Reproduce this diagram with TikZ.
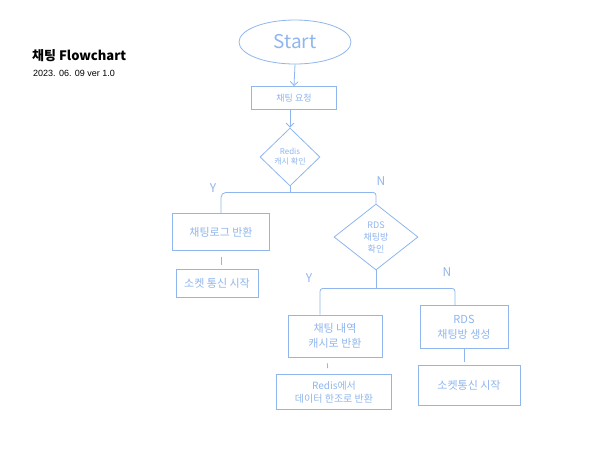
\documentclass[tikz,border=0pt]{standalone}
\usepackage{fontspec}
\setmainfont{Liberation Sans}
\newfontfamily\kr{Noto Sans CJK KR}
\usetikzlibrary{shapes.geometric,arrows.meta}
\definecolor{pen}{HTML}{8FB6EE}
\tikzset{
  x=1pt,y=-1pt,
  every node/.style={inner sep=1pt},
  line/.style={draw=pen,line width=0.8pt},
  arr/.style={line,-{Straight Barb[length=4pt,width=8pt]}},
  box/.style={draw=pen,line width=0.8pt,rectangle,text=pen,font=\kr\fontsize{11}{15}\selectfont,align=center},
  dia/.style={draw=pen,line width=0.8pt,diamond,aspect=1.2,text=pen,font=\kr\fontsize{8}{10}\selectfont,align=center,inner sep=0pt},
  lbl/.style={text=pen,font=\kr\fontsize{12}{12}\selectfont}
}
\begin{document}
\begin{tikzpicture}
\useasboundingbox[fill=white] (0,0) rectangle (600,450);
% title
\node[anchor=west,font=\kr\bfseries\fontsize{13}{15}\selectfont] (title) at (31,56) {채팅 Flowchart};
\node[anchor=west,font=\fontsize{9}{11}\selectfont] (date) at (32,73) {2023. 06. 09 ver 1.0};
% nodes
\node[draw=pen,line width=0.8pt,ellipse,minimum width=112pt,minimum height=44pt,text=pen,font=\kr\fontsize{19}{19}\selectfont] (start) at (295,42) {Start};
\node[box,minimum width=85pt,minimum height=23pt,font=\kr\fontsize{9}{11}\selectfont] (req) at (294,98) {채팅 요청};
\node[dia,minimum width=60pt,minimum height=58pt] (redis) at (290,157) {Redis\\캐시 확인};
\node[box,minimum width=97pt,minimum height=37pt] (log) at (221,232) {채팅로그 반환};
\node[box,minimum width=82pt,minimum height=28pt] (sock) at (217,283) {소켓 통신 시작};
\node[dia,minimum width=84pt,minimum height=66pt,font=\kr\fontsize{9}{12}\selectfont] (rds) at (376,237) {RDS\\채팅방\\확인};
\node[box,minimum width=94pt,minimum height=42pt] (cache) at (335,336) {채팅 내역\\캐시로 반환};
\node[box,minimum width=115pt,minimum height=35pt,font=\kr\fontsize{10}{13}\selectfont] (rget) at (334,392) {Redis에서\\데이터 한조로 반환};
\node[box,minimum width=88pt,minimum height=43pt] (mk) at (464,327) {RDS\\채팅방 생성};
\node[box,minimum width=102pt,minimum height=40pt] (sock2) at (469,385) {소켓통신 시작};
% labels
\node[lbl] (y1) at (213,188) {Y};
\node[lbl] (n1) at (381,181) {N};
\node[lbl] (y2) at (309,278) {Y};
\node[lbl] (n2) at (447,272) {N};
% connectors
\draw[arr] (start.south) -- (req.north);
\draw[arr] ([xshift=-4pt]req.south) -- ([xshift=0pt]redis.north);
\draw[line] (redis.south) -- ++(0,6) coordinate (j1);
\draw[line,rounded corners=5pt] (j1) -| (log.north);
\draw[line,rounded corners=3pt] (j1) -| (rds.north);
\draw[line,shorten <=6pt,shorten >=4pt] (log.south) -- (log.south |- sock.north);
\draw[line] (rds.south) -- ++(0,18) coordinate (j2);
\draw[line,rounded corners=3pt] (j2) -| ([xshift=-15pt]cache.north);
\draw[line,rounded corners=3pt] (j2) -| ([xshift=-9pt]mk.north);
\draw[line,shorten <=6pt,shorten >=6pt] ([xshift=-8pt]cache.south) -- ([xshift=-7pt]cache.south |- rget.north);
\draw[line,shorten >=3pt] (mk.south) -- (mk.south |- sock2.north);
\end{tikzpicture}
\end{document}
